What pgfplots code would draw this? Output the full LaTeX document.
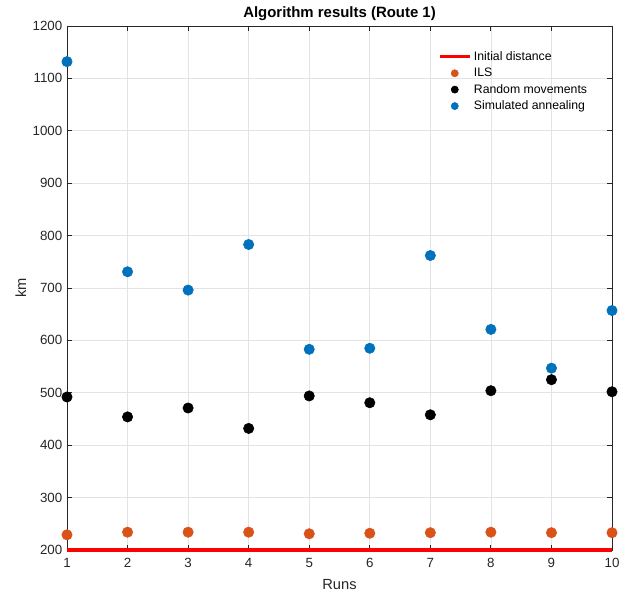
\documentclass[border=0pt]{standalone}
\usepackage{pgfplots}
\pgfplotsset{compat=1.18}
\usepackage{fontspec}
\setmainfont{Liberation Sans}
\definecolor{ilsc}{RGB}{217,83,25}
\definecolor{sac}{RGB}{0,114,189}
\definecolor{axc}{RGB}{38,38,38}
\begin{document}
\begin{tikzpicture}
\begin{axis}[
  scale only axis,
  width=408.75pt, height=393pt,
  xmin=1, xmax=10, ymin=200, ymax=1200,
  xtick={1,...,10},
  ytick={200,300,...,1200},
  tick pos=both, tick align=inside,
  major tick length=4pt,
  grid=major,
  grid style={gray!22, line width=0.5pt},
  axis line style={axc, line width=0.6pt},
  every tick/.style={axc, line width=0.6pt},
  tick label style={font=\fontsize{10}{11}\selectfont, text=axc},
  xticklabel style={yshift=-2.5pt},
  /pgf/number format/assume math mode=true,
  /pgf/number format/1000 sep={},
  xlabel={Runs}, ylabel={km},
  label style={font=\fontsize{11}{12}\selectfont, text=axc},
  xlabel style={yshift=-2pt},
  ylabel style={yshift=-2pt},
  title={\textbf{Algorithm results (Route 1)}},
  title style={font=\fontsize{11.2}{13}\selectfont, yshift=-5.5pt},
  legend style={at={(0.967,0.962)}, anchor=north east, draw=none, fill=none,
    font=\fontsize{9.2}{10.5}\selectfont, row sep=0.2pt},
  legend cell align=left,
  clip=false,
]
\addplot[red, line width=2.6pt, legend image code/.code={\draw[red, line width=2.2pt] (0pt,0pt) -- (22.5pt,0pt);}] coordinates {(1,200) (10,200)};
\addlegendentry{Initial distance}
\addplot[only marks, mark=*, mark size=3.9pt, color=ilsc, mark options={fill=ilsc, draw=ilsc}, legend image code/.code={\fill[ilsc] (11.25pt,0pt) circle (2.7pt);}] coordinates {
(1,229) (2,234) (3,234) (4,234) (5,231) (6,232) (7,233) (8,234) (9,233) (10,233)};
\addlegendentry{ILS}
\addplot[only marks, mark=*, mark size=3.9pt, color=black, mark options={fill=black, draw=black}, legend image code/.code={\fill[black] (11.25pt,0pt) circle (2.7pt);}] coordinates {
(1,492) (2,454) (3,471) (4,432) (5,494) (6,481) (7,458) (8,504) (9,525) (10,502)};
\addlegendentry{Random movements}
\addplot[only marks, mark=*, mark size=3.9pt, color=sac, mark options={fill=sac, draw=sac}, legend image code/.code={\fill[sac] (11.25pt,0pt) circle (2.7pt);}] coordinates {
(1,1132) (2,731) (3,696) (4,783) (5,583) (6,585) (7,762) (8,621) (9,547) (10,657)};
\addlegendentry{Simulated annealing}
\end{axis}
\path ([shift={(-50.25pt,-30pt)}]current axis.south west) rectangle ([shift={(10.5pt,19.5pt)}]current axis.north east);
\end{tikzpicture}
\end{document}
